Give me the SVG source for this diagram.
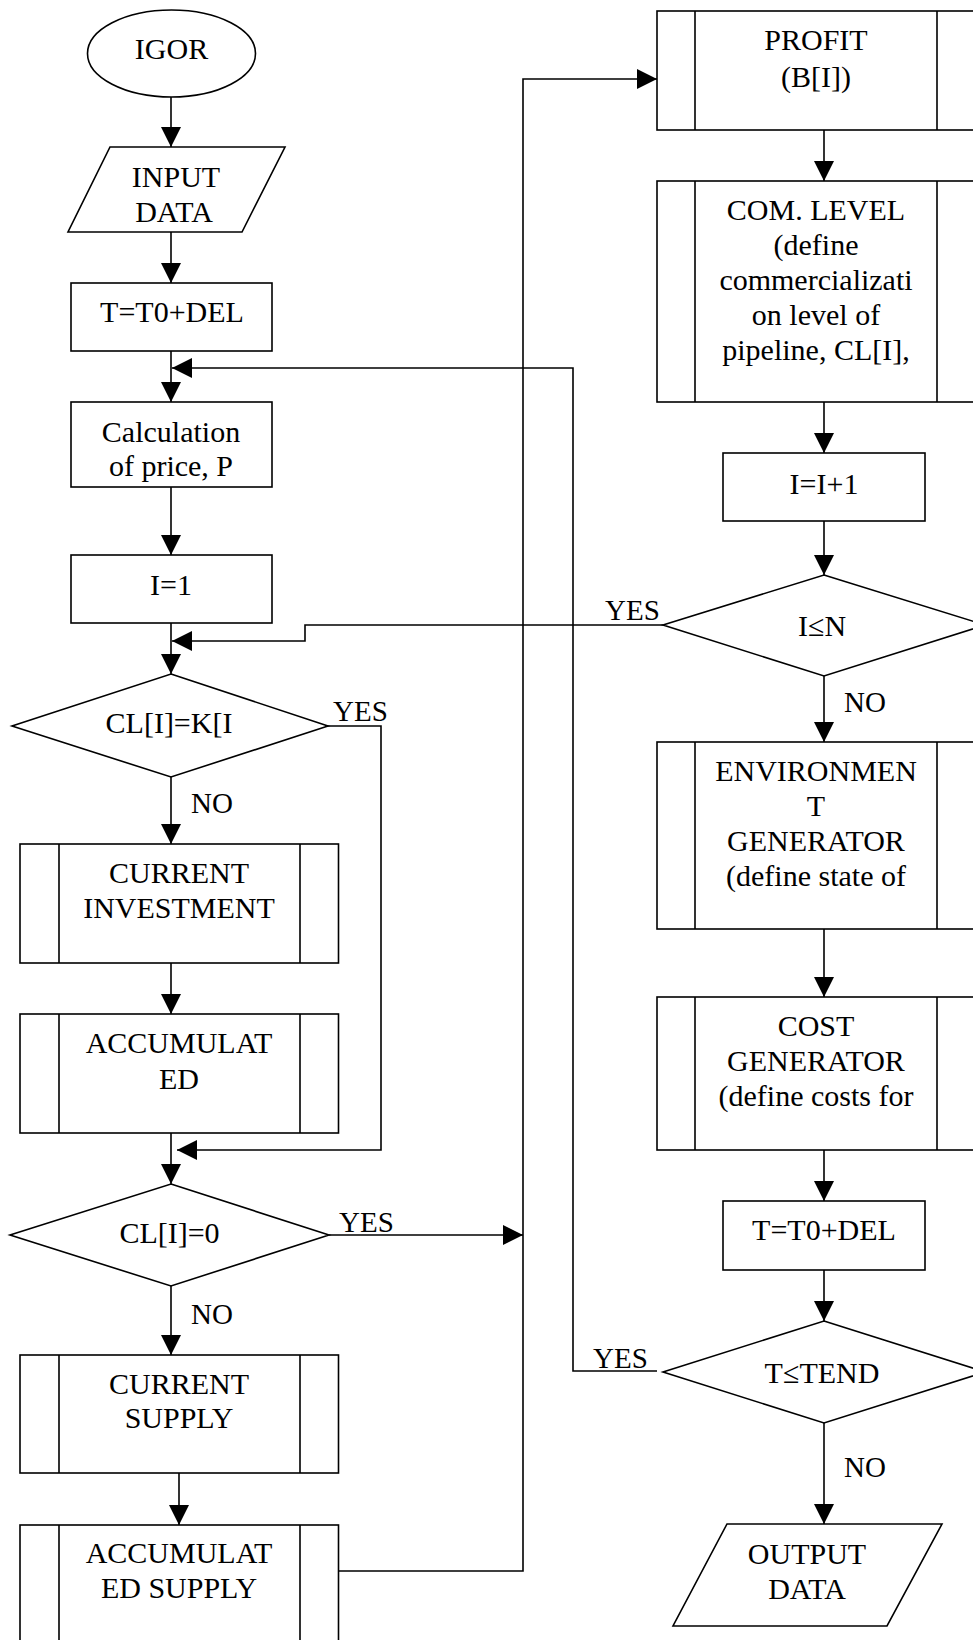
<svg xmlns="http://www.w3.org/2000/svg" width="973" height="1640" viewBox="0 0 973 1640">
<style>
.s{fill:#fff;stroke:#000;stroke-width:1.6}
.l{fill:none;stroke:#000;stroke-width:1.6}
.t{font-family:"Liberation Serif","Times New Roman",serif;font-size:30px;fill:#000;text-anchor:middle}
.lb{font-family:"Liberation Serif","Times New Roman",serif;font-size:29px;fill:#000}
</style>
<defs>
<marker id="a" markerUnits="userSpaceOnUse" markerWidth="20" markerHeight="20" refX="20" refY="10" orient="auto">
<path d="M0,0 L20,10 L0,20 z" fill="#000"/>
</marker>
</defs>
<rect width="973" height="1640" fill="#fff"/>
<g id="connectors">
<path class="l" d="M171,97 V147" marker-end="url(#a)"/>
<path class="l" d="M171,232 V283" marker-end="url(#a)"/>
<path class="l" d="M171,351 V402" marker-end="url(#a)"/>
<path class="l" d="M171,487 V555" marker-end="url(#a)"/>
<path class="l" d="M171,623 V674" marker-end="url(#a)"/>
<path class="l" d="M171,777 V844" marker-end="url(#a)"/>
<path class="l" d="M171,963 V1014" marker-end="url(#a)"/>
<path class="l" d="M171,1133 V1184" marker-end="url(#a)"/>
<path class="l" d="M328,726 H381 V1150 H177" marker-end="url(#a)"/>
<path class="l" d="M171,1286 V1355" marker-end="url(#a)"/>
<path class="l" d="M179,1473 V1525" marker-end="url(#a)"/>
<path class="l" d="M329,1235 H523" marker-end="url(#a)"/>
<path class="l" d="M339,1571 H523 V79 H657" marker-end="url(#a)"/>
<path class="l" d="M824,130 V181" marker-end="url(#a)"/>
<path class="l" d="M824,402 V453" marker-end="url(#a)"/>
<path class="l" d="M824,521 V575" marker-end="url(#a)"/>
<path class="l" d="M663,625 H305 V641 H172" marker-end="url(#a)"/>
<path class="l" d="M824,676 V742" marker-end="url(#a)"/>
<path class="l" d="M824,929 V997" marker-end="url(#a)"/>
<path class="l" d="M824,1150 V1201" marker-end="url(#a)"/>
<path class="l" d="M824,1270 V1321" marker-end="url(#a)"/>
<path class="l" d="M657,1371 H573 V368 H172" marker-end="url(#a)"/>
<path class="l" d="M824,1423 V1524" marker-end="url(#a)"/>
<text class="lb" x="333" y="721">YES</text>
<text class="lb" x="191" y="813">NO</text>
<text class="lb" x="339" y="1232">YES</text>
<text class="lb" x="191" y="1324">NO</text>
<text class="lb" x="605" y="620">YES</text>
<text class="lb" x="844" y="712">NO</text>
<text class="lb" x="593" y="1368">YES</text>
<text class="lb" x="844" y="1477">NO</text>
</g>
<g id="igor"><ellipse class="s" cx="171.5" cy="53.5" rx="84" ry="43.5"/><text class="t" x="171.5" y="59">IGOR</text></g>
<g id="input"><polygon class="s" points="110,147 285,147 242,232 68,232"/><text class="t" x="176" y="187">INPUT</text><text class="t" x="174" y="222">DATA</text></g>
<g id="t1"><rect class="s" x="71" y="283" width="201" height="68"/><text class="t" x="172" y="322">T=T0+DEL</text></g>
<g id="calc"><rect class="s" x="71" y="402" width="201" height="85"/><text class="t" x="171" y="442">Calculation</text><text class="t" x="171" y="476">of price, P</text></g>
<g id="i1"><rect class="s" x="71" y="555" width="201" height="68"/><text class="t" x="171" y="595">I=1</text></g>
<g id="d1"><polygon class="s" points="171,674 328,726 171,777 12,726"/><text class="t" x="169" y="733">CL[I]=K[I</text></g>
<g id="ci"><rect class="s" x="20" y="844" width="318.5" height="119"/><path class="l" d="M59,844 V963 M300,844 V963"/><text class="t" x="179" y="883">CURRENT</text><text class="t" x="179" y="918">INVESTMENT</text></g>
<g id="ai"><rect class="s" x="20" y="1014" width="318.5" height="119"/><path class="l" d="M59,1014 V1133 M300,1014 V1133"/><text class="t" x="179" y="1053">ACCUMULAT</text><text class="t" x="179" y="1089">ED</text></g>
<g id="d2"><polygon class="s" points="171,1184 329,1235 171,1286 10,1235"/><text class="t" x="169.5" y="1243">CL[I]=0</text></g>
<g id="cs"><rect class="s" x="20" y="1355" width="318.5" height="118"/><path class="l" d="M59,1355 V1473 M300,1355 V1473"/><text class="t" x="179" y="1394">CURRENT</text><text class="t" x="179" y="1428">SUPPLY</text></g>
<g id="as"><rect class="s" x="20" y="1525" width="318.5" height="130"/><path class="l" d="M59,1525 V1655 M300,1525 V1655"/><text class="t" x="179" y="1563">ACCUMULAT</text><text class="t" x="179" y="1598">ED SUPPLY</text></g>
<g id="profit"><rect class="s" x="657" y="11" width="318" height="119"/><path class="l" d="M695,11 V130 M937,11 V130"/><text class="t" x="816" y="50">PROFIT</text><text class="t" x="816" y="87">(B[I])</text></g>
<g id="com"><rect class="s" x="657" y="181" width="318" height="221"/><path class="l" d="M695,181 V402 M937,181 V402"/><text class="t" x="816" y="220">COM. LEVEL</text><text class="t" x="816" y="255">(define</text><text class="t" x="816" y="290">commercializati</text><text class="t" x="816" y="325">on level of</text><text class="t" x="816" y="360">pipeline, CL[I],</text></g>
<g id="inc"><rect class="s" x="723" y="453" width="202" height="68"/><text class="t" x="824" y="494">I=I+1</text></g>
<g id="d3"><polygon class="s" points="824,575 985,625 824,676 663,625"/><text class="t" x="822" y="636">I≤N</text></g>
<g id="env"><rect class="s" x="657" y="742" width="318" height="187"/><path class="l" d="M695,742 V929 M937,742 V929"/><text class="t" x="816" y="781">ENVIRONMEN</text><text class="t" x="816" y="816">T</text><text class="t" x="816" y="851">GENERATOR</text><text class="t" x="816" y="886">(define state of</text></g>
<g id="cost"><rect class="s" x="657" y="997" width="318" height="153"/><path class="l" d="M695,997 V1150 M937,997 V1150"/><text class="t" x="816" y="1036">COST</text><text class="t" x="816" y="1071">GENERATOR</text><text class="t" x="816" y="1106">(define costs for</text></g>
<g id="t2"><rect class="s" x="723" y="1201" width="202" height="69"/><text class="t" x="824" y="1240">T=T0+DEL</text></g>
<g id="d4"><polygon class="s" points="824,1321 985,1372 824,1423 663,1372"/><text class="t" x="822" y="1383">T≤TEND</text></g>
<g id="output"><polygon class="s" points="727,1524 942,1524 887,1626 673,1626"/><text class="t" x="807" y="1564">OUTPUT</text><text class="t" x="807" y="1599">DATA</text></g>
</svg>
